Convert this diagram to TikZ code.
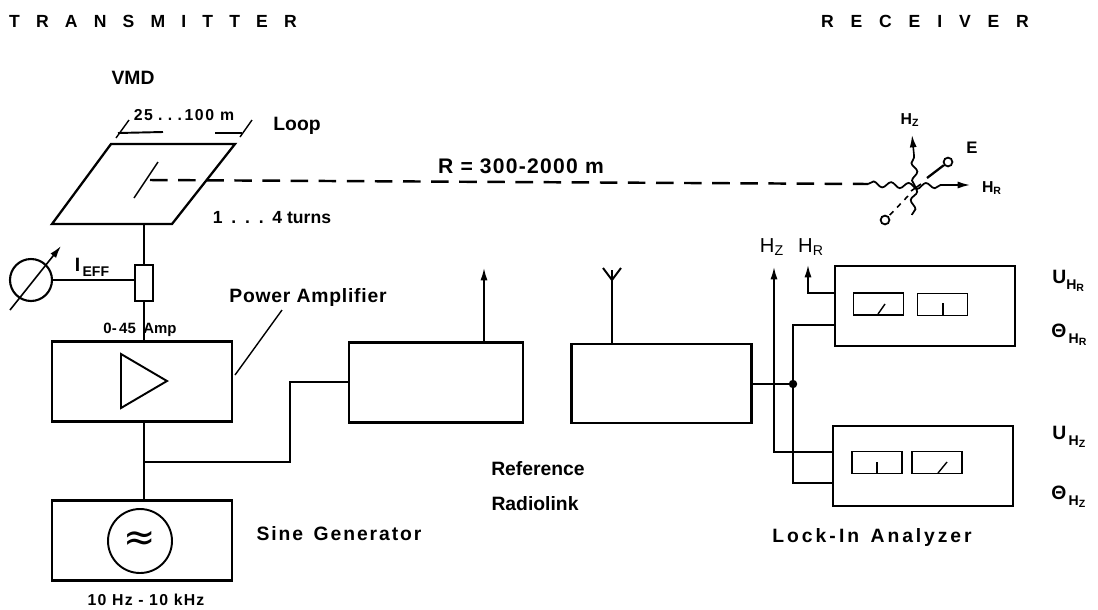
\documentclass[tikz,border=0pt]{standalone}
\usepackage{fontspec}
\setmainfont{Liberation Sans}
\usepackage{tikz}
\usetikzlibrary{arrows.meta,decorations.pathmorphing}

\tikzset{
    block/.style={draw, line width=1.4pt, minimum width=3.6cm, minimum height=1.6cm, inner sep=0pt},
    dial/.style={draw, line width=1.1pt, minimum width=1cm, minimum height=0.44cm, inner sep=0pt},
    wire/.style={line width=1.1pt},
    tip/.style={-{Latex[length=7pt,width=4pt]}, line width=0.9pt},
    label/.style={font=\fontsize{11}{13}\selectfont\bfseries, inner sep=0pt},
    wave/.style={decorate, decoration={snake, amplitude=1.6pt, segment length=10pt}, line width=1pt},
    term/.style={draw, circle, line width=1pt, minimum size=5pt, inner sep=0pt}
}
\newcommand{\spaced}[2]{{\addfontfeature{LetterSpace=#1}#2}}
\newcommand{\lowtext}[2]{#1{\fontsize{8}{9}\selectfont\raisebox{-3pt}{#2}}}

\begin{document}
\begin{tikzpicture}[x=0.02cm, y=-0.02cm]
    \useasboundingbox (0,0) rectangle (1098,609);

    % titles
    \node[label, font=\fontsize{10}{12}\selectfont\bfseries] (txtitle) at (153,21) {\spaced{92}{TRANSMITTER}};
    \node[label, font=\fontsize{10}{12}\selectfont\bfseries] (rxtitle) at (925,21) {\spaced{96}{RECEIVER}};

    % loop
    \coordinate (looptl) at (111,144);
    \coordinate (looptr) at (235,144);
    \coordinate (loopbr) at (172,224);
    \coordinate (loopbl) at (52,224);
    \coordinate (loopfeed) at (144,224);
    \draw[line width=1.3pt] (looptl) -- (looptr) -- (loopbr) -- (loopbl) -- cycle;
    \draw[line width=0.8pt] (134,198) -- (158,162);
    \node[label] (vmd) at (133,78) {VMD};
    \node[label, font=\fontsize{9}{11}\selectfont\bfseries] (span) at (184,115) {\spaced{10}{25\,\,.\,\,.\,\,.\,100 m}};
    \node[label] (loop) at (297,126) {Loop};
    \node[label, font=\fontsize{10}{12}\selectfont\bfseries] (turns) at (272,218) {1\,\,\,.\,\,\,.\,\,\,.\,\,\,4 turns};
    \draw[line width=0.8pt] (116,138) -- (129,120);
    \draw[line width=1.1pt] (118,133) -- (163,132);
    \draw[line width=1.1pt] (215,133) -- (242,133);
    \draw[line width=0.8pt] (240,137) -- (252,120);

    % path to the receiver
    \coordinate (dashstart) at (150,180);
    \coordinate (dashend) at (868,184);
    \draw[dash pattern=on 10pt off 6pt, line width=1.4pt] (dashstart) -- (dashend);
    \node[label, font=\fontsize{12}{14}\selectfont\bfseries] (range) at (521,166) {\spaced{6}{R = 300-2000 m}};

    % field components
    \coordinate (fieldc) at (915,186);
    \coordinate (hrtip) at (970,185);
    \coordinate (hztip) at (912,135);
    \coordinate (hzend) at (912,215);
    \draw[wave] (dashend) -- (fieldc) -- (942,185);
    \draw[tip] (942,185) -- (hrtip);
    \draw[wave] (fieldc) -- (914,155);
    \draw[tip] (914,155) -- (hztip);
    \draw[wave] (fieldc) -- (hzend);
    \node[term] (eup) at (948,162) {};
    \node[term] (edown) at (885,220) {};
    \draw[line width=1.3pt] (eup) -- (927,178);
    \draw[line width=0.9pt] (921,184) -- (911,191);
    \draw[dashed, line width=0.9pt] (908,196) -- (edown);
    \node[label, font=\fontsize{9}{11}\selectfont\bfseries] (hzfield) at (910,120) {H\textsubscript{Z}};
    \node[label, font=\fontsize{9.5}{11}\selectfont\bfseries] (efield) at (972,148) {E};
    \node[label, font=\fontsize{9}{11}\selectfont\bfseries] (hrfield) at (992,188) {H\textsubscript{R}};

    % current meter
    \node[block, minimum width=0.36cm, minimum height=0.72cm, line width=1pt] (shunt) at (144,283) {};
    \node[draw, circle, line width=1.2pt, minimum size=0.84cm, inner sep=0pt] (meter) at (31,280) {};
    \draw[-{Latex[length=7pt,width=4pt]}, line width=0.9pt] (10,310) -- (61,246);
    \draw[wire] (meter) -- (meter -| shunt.west);
    \node[label] (ieff) at (92,267) {\lowtext{I}{\,EFF}};
    \node[label, font=\fontsize{8.5}{10}\selectfont\bfseries] (amps) at (140,330) {0-\,45\,\,\,Amp};

    % transmitter
    \node[block] (amplifier) at (142,381.5) {};
    \node[block] (generator) at (142,540.5) {};
    \draw[line width=1.1pt] (121,354) -- (167,381) -- (121,408) -- cycle;
    \node[draw, circle, line width=1.1pt, minimum size=1.28cm, inner sep=0pt] (sine) at (140,541) {};
    \node[inner sep=0pt] (approx) at (sine) {\fontsize{22}{22}\selectfont\fontspec{DejaVu Sans}≈};
    \node[label] (sinelabel) at (339,534) {\spaced{10}{Sine\, Generator}};
    \node[label, font=\fontsize{9}{10}\selectfont\bfseries] (freq) at (146,600) {\spaced{8}{10 Hz - 10 kHz}};
    \node[label] (powerlabel) at (308,297) {\spaced{4}{Power Amplifier}};
    \draw[line width=0.8pt] (282,310) -- (235,375);
    \draw[wire] (loopfeed) -- (shunt);
    \draw[wire] (shunt) -- (amplifier.north -| shunt);
    \draw[wire] (amplifier.south -| shunt) -- (generator.north -| shunt);

    % radio link
    \node[block, minimum width=3.48cm] (linktx) at (436,382.5) {};
    \node[block, minimum height=1.58cm] (linkrx) at (661.5,383.5) {};
    \coordinate (branch) at (144,462);
    \draw[wire] (branch) -- (290,462) -- (290,382) -- (linktx.west |- 0,382);
    \draw[tip] (linktx.north -| 484,0) -- (484,268);
    \coordinate (mast) at (612,280);
    \draw[wire] (linkrx.north -| mast) -- (612,270);
    \draw[wire] (603,268) -- (mast) -- (621,268);
    \node[label] (linklabel) at (538,469) {Reference};
    \node[label] (linklabelb) at (535,504) {Radiolink};

    % lock-in analyzers
    \node[block] (lockinr) at (925,306) {};
    \node[block] (lockinz) at (923,466) {};
    \node[dial] (dialra) at (878.5,304) {};
    \node[dial] (dialrb) at (942.5,304.5) {};
    \node[dial] (dialza) at (877,462.5) {};
    \node[dial] (dialzb) at (937,462.5) {};
    \draw[line width=0.8pt] (878,314) -- (885,304);
    \draw[line width=0.8pt] (943,303) -- (943,315);
    \draw[line width=0.8pt] (877,462) -- (877,473);
    \draw[line width=0.8pt] (938,473) -- (947,462);
    \coordinate (split) at (793,384);
    \draw[wire] (linkrx.east |- split) -- (split);
    \fill (split) circle (2.4pt);
    \draw[wire] (lockinr.west |- 0,325) -- (793,325) -- (793,483) -- (lockinz.west |- 0,483);
    \draw[tip] (lockinz.west |- 0,452) -| (774,267);
    \draw[tip] (lockinr.west |- 0,293) -| (808,265);
    \node[label, font=\fontsize{11.5}{13}\selectfont] (hzout) at (772,247) {H\textsubscript{Z}};
    \node[label, font=\fontsize{11.5}{13}\selectfont] (hrout) at (811,247) {H\textsubscript{R}};
    \node[label] (lockinlabel) at (872,537) {\spaced{15}{Lock\,-\,In\, Analyzer}};

    % outputs
    \node[label, anchor=west] (urout) at (1052,281) {\lowtext{U}{H\textsubscript{R}}};
    \node[label, anchor=west] (throut) at (1051,335) {\lowtext{Θ}{\,H\textsubscript{R}}};
    \node[label, anchor=west] (uzout) at (1052,437) {\lowtext{U}{\,H\textsubscript{Z}}};
    \node[label, anchor=west] (thzout) at (1051,497) {\lowtext{Θ}{\,H\textsubscript{Z}}};
\end{tikzpicture}
\end{document}
